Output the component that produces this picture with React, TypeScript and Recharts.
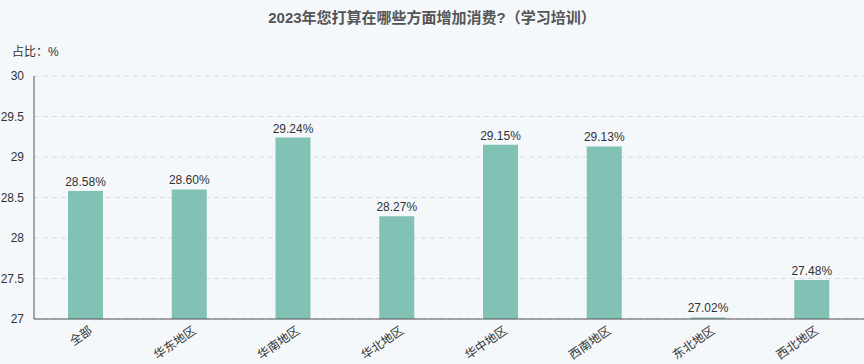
import { Bar, BarChart, CartesianGrid, LabelList, XAxis, YAxis } from "recharts";

const regions = ["全部", "华东地区", "华南地区", "华北地区", "华中地区", "西南地区", "东北地区", "西北地区"];
const shares = [28.58, 28.6, 29.24, 28.27, 29.15, 29.13, 27.02, 27.48];
const yTicks = [27, 27.5, 28, 28.5, 29, 29.5, 30];

const data = regions.map((name, i) => ({ name, value: shares[i] }));

const font = "'Liberation Sans', 'Noto Sans CJK SC', sans-serif";

function RotTick({ x, y, payload }: any) {
  return (
    <g transform={`translate(${x + 5},${y + 2})`}>
      <text textAnchor="end" transform="rotate(-35)" fontSize={12} fill="#333" fontFamily={font} dy={4}>
        {payload.value}
      </text>
    </g>
  );
}

export default function App() {
  return (
    <div style={{ position: "absolute", left: 0, top: 0, width: 864, height: 364, background: "#f4f8fb", fontFamily: font }}>
      <div style={{ position: "absolute", top: 6, width: 864, textAlign: "center", fontSize: 15, fontWeight: 700, color: "#555" }}>
        2023年您打算在哪些方面增加消费?（学习培训）
      </div>
      <div style={{ position: "absolute", top: 42, left: 12, fontSize: 12, color: "#333" }}>占比：%</div>
      <BarChart width={864} height={364} data={data} margin={{ top: 76, right: 0, left: 0, bottom: 0 }}>
        <CartesianGrid horizontal vertical={false} stroke="#d9dcdf" strokeDasharray="5 4" />
        <XAxis
          dataKey="name"
          height={45}
          interval={0}
          tick={<RotTick />}
          tickLine={false}
          axisLine={{ stroke: "#555" }}
        />
        <YAxis
          width={34}
          domain={[27, 30]}
          ticks={yTicks}
          tickLine={false}
          axisLine={{ stroke: "#555" }}
          tick={{ fontSize: 12, fill: "#333", fontFamily: font }}
          tickMargin={4}
        />
        <Bar dataKey="value" fill="#82c2b5" barSize={35} isAnimationActive={false}>
          <LabelList
            dataKey="value"
            position="top"
            formatter={(v: any) => `${Number(v).toFixed(2)}%`}
            style={{ fontSize: 12, fill: "#333", fontFamily: font }}
          />
        </Bar>
      </BarChart>
    </div>
  );
}
